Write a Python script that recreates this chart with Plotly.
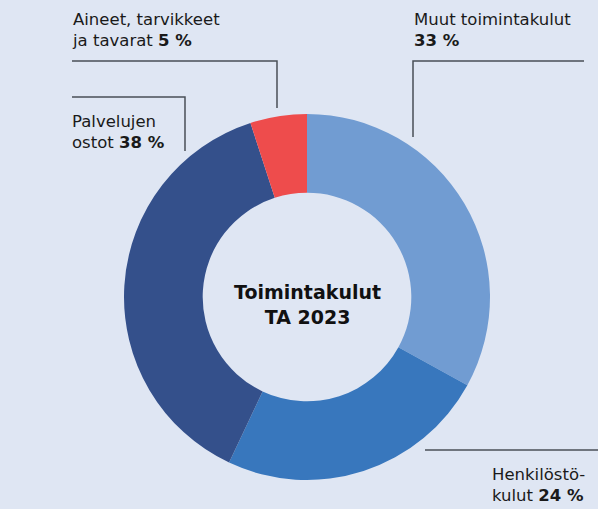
import plotly.graph_objects as go

W, H = 598, 509

labels = ["Muut toimintakulut", "Henkilöstökulut", "Palvelujen ostot", "Aineet, tarvikkeet ja tavarat"]
values = [33, 24, 38, 5]
colors = ["#719cd2", "#3877bd", "#34508b", "#ee4c4c"]

label_texts = [
    "Muut toimintakulut<br><b>33 %</b>",
    "Henkilöstö-<br>kulut <b>24 %</b>",
    "Palvelujen<br>ostot <b>38 %</b>",
    "Aineet, tarvikkeet<br>ja tavarat <b>5 %</b>",
]
center_text = "<b>Toimintakulut<br>TA 2023</b>"

BG = "#dfe6f3"
LINE = "#4a4f57"
FONT = "DejaVu Sans"


def px(x):
    return x / W


def py(y):
    return 1 - y / H


cx, cy, r = 307, 297, 183

fig = go.Figure(
    go.Pie(
        labels=labels,
        values=values,
        marker=dict(colors=colors, line=dict(width=0)),
        hole=0.57,
        sort=False,
        direction="clockwise",
        rotation=0,
        textinfo="none",
        hoverinfo="label+percent",
        showlegend=False,
        domain=dict(x=[px(cx - r), px(cx + r)], y=[py(cy + r), py(cy - r)]),
    )
)

# leader lines (pixel paths)
leaders = [
    [(413, 137), (413, 61), (584, 61)],
    [(425, 450), (598, 450)],
    [(72, 97), (185, 97), (185, 151)],
    [(72, 61), (277, 61), (277, 108)],
]
for pts in leaders:
    path = "M " + " L ".join(f"{px(x):.5f},{py(y):.5f}" for x, y in pts)
    fig.add_shape(type="path", path=path, xref="paper", yref="paper",
                  line=dict(color=LINE, width=1.5))

# label positions (left x, center y in pixels)
label_pos = [(412, 30), (490, 485), (70, 132), (70, 30)]
for t, (x, y) in zip(label_texts, label_pos):
    fig.add_annotation(text=t, x=px(x), y=py(y), xref="paper", yref="paper",
                       xanchor="left", yanchor="middle", align="left", showarrow=False,
                       font=dict(family=FONT, size=16.5, color="#1a1a1a"))

fig.add_annotation(text=center_text, x=px(cx), y=py(cy + 7), xref="paper", yref="paper",
                   xanchor="center", yanchor="middle", align="center", showarrow=False,
                   font=dict(family=FONT, size=19, color="#111111"))

fig.update_layout(
    width=W, height=H,
    margin=dict(l=0, r=0, t=0, b=0),
    paper_bgcolor=BG, plot_bgcolor=BG,
)

fig.write_html("out.html", config={"displayModeBar": False},
               post_script="document.body.style.margin='0';document.body.style.overflow='hidden';")
